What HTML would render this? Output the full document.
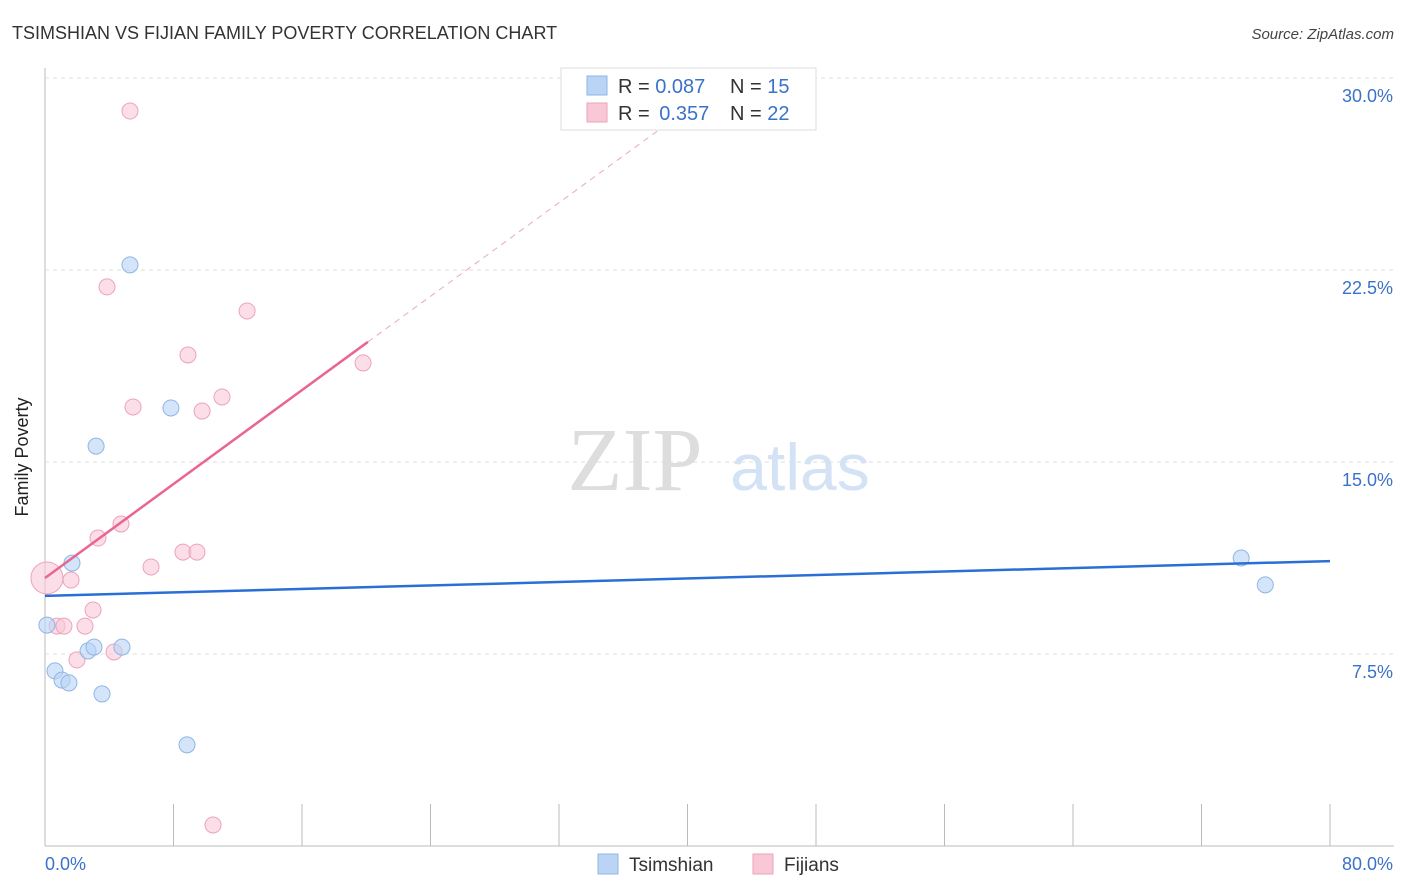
<!DOCTYPE html>
<html><head><meta charset="utf-8"><style>
body{margin:0;background:#fff;font-family:"Liberation Sans",sans-serif;}
svg{display:block}
</style></head><body>
<svg id="c" width="1406" height="892">
<text x="12" y="39" font-size="18" fill="#333">TSIMSHIAN VS FIJIAN FAMILY POVERTY CORRELATION CHART</text>
<text x="1394" y="39" font-size="15" fill="#444" font-style="italic" text-anchor="end">Source: ZipAtlas.com</text>
<text x="28" y="457" font-size="18" fill="#222" text-anchor="middle" transform="rotate(-90 28 457)">Family Poverty</text>
<g id="grid"></g>
<text x="635" y="490" font-size="90" fill="#ddd" font-family="Liberation Serif" text-anchor="middle">ZIP</text>
<text x="800" y="490" font-size="66" fill="#d3e2f5" text-anchor="middle">atlas</text>
<g id="marks"></g>
<g>
<rect x="561" y="68" width="255" height="62" fill="#fff" stroke="#ddd"/>
<rect x="587" y="76" width="20" height="19" fill="#b9d4f5" stroke="#8fb5e6"/>
<rect x="587" y="103" width="20" height="19" fill="#f9c8d7" stroke="#eda3bb"/>
<text x="618" y="93" font-size="20" fill="#333">R = <tspan fill="#3a72c9">0.087</tspan><tspan x="730">N = </tspan><tspan fill="#3a72c9">15</tspan></text>
<text x="618" y="120" font-size="20" fill="#333">R = <tspan fill="#3a72c9" dx="4">0.357</tspan><tspan x="730">N = </tspan><tspan fill="#3a72c9">22</tspan></text>
</g>
<g>
<rect x="598" y="854" width="20" height="20" fill="#b9d4f5" stroke="#8fb5e6"/>
<text x="629" y="871" font-size="19" fill="#333">Tsimshian</text>
<rect x="753" y="854" width="20" height="20" fill="#f9c8d7" stroke="#eda3bb"/>
<text x="784" y="871" font-size="19" fill="#333">Fijians</text>
</g>
</svg>
<script>
const yTicks=[7.5,15,22.5,30];
const yTickLabels=["7.5%","15.0%","22.5%","30.0%"];
const tsX=[0.12,0.62,1.06,1.49,1.68,2.68,3.05,3.18,3.55,4.79,5.29,7.84,8.84,74.47,75.97];
const tsY=[8.63,6.84,6.48,6.37,11.05,7.62,7.77,15.62,5.94,7.77,22.7,17.11,3.95,11.25,10.2];
const fjX=[0.75,1.18,1.62,1.99,2.49,2.99,3.3,3.86,4.3,4.73,5.29,5.48,6.6,8.59,8.9,9.46,9.78,10.46,11.02,12.58,19.8];
const fjY=[8.59,8.59,10.39,7.27,8.59,9.22,12.03,21.84,7.58,12.58,28.71,17.15,10.9,11.48,19.18,11.48,16.99,0.82,17.54,20.9,18.87];
const tsLine=[[0,9.77],[80,11.13]];
const fjLine=[[0,10.47],[20.1,19.69]];
const fjDash=[[20.1,19.69],[38.5,28.1]];
const X=v=>45+v*1285/80, Y=v=>846-v*25.6;
const NS="http://www.w3.org/2000/svg";
const g=document.getElementById('grid'), m=document.getElementById('marks');
function el(p,t,a){const e=document.createElementNS(NS,t);for(const k in a)e.setAttribute(k,a[k]);p.appendChild(e);return e;}
const ax=el(g,'line',{x1:45,x2:45,y1:68,y2:846,stroke:'#bbb'});


const bx=el(g,'line',{x1:45,x2:1394,y1:846,y2:846,stroke:'#bbb'});


yTicks.forEach((t,i)=>{
 const l=el(g,'line',{x1:45,x2:1394,y1:Y(t),y2:Y(t),stroke:'#ddd','stroke-dasharray':'4 4'});
 
 
 const tx=el(g,'text',{x:1393,y:Y(t)+24,'font-size':18,fill:'#3a72c9','text-anchor':'end'});
 tx.textContent=yTickLabels[i];
 
 
});
for(let i=1;i<=10;i++){
 const l=el(g,'line',{x1:X(i*8),x2:X(i*8),y1:804,y2:846,stroke:'#bbb'});
 
 
}
const x0=el(g,'text',{x:45,y:870,'font-size':18,fill:'#3a72c9'});x0.textContent='0.0%';


const x1=el(g,'text',{x:1393,y:870,'font-size':18,fill:'#3a72c9','text-anchor':'end'});x1.textContent='80.0%';


const big=el(m,'circle',{cx:X(0.12),cy:Y(10.47),r:16,fill:'#f9c8d7','fill-opacity':0.6,stroke:'#eda3bb'});


fjX.forEach((v,i)=>{const c=el(m,'circle',{cx:X(v),cy:Y(fjY[i]),r:8,fill:'#f9c8d7','fill-opacity':0.6,stroke:'#eda3bb'});
 
 });
tsX.forEach((v,i)=>{const c=el(m,'circle',{cx:X(v),cy:Y(tsY[i]),r:8,fill:'#b9d4f5','fill-opacity':0.6,stroke:'#8fb5e6'});
 
 });
const l1=el(m,'line',{x1:X(tsLine[0][0]),y1:Y(tsLine[0][1]),x2:X(tsLine[1][0]),y2:Y(tsLine[1][1]),stroke:'#2a6fd6','stroke-width':2.5});


const l2=el(m,'line',{x1:X(fjLine[0][0]),y1:Y(fjLine[0][1]),x2:X(fjLine[1][0]),y2:Y(fjLine[1][1]),stroke:'#e8668f','stroke-width':2.5});


const l3=el(m,'line',{x1:X(fjDash[0][0]),y1:Y(fjDash[0][1]),x2:X(fjDash[1][0]),y2:Y(fjDash[1][1]),stroke:'#eba8bd','stroke-width':1,'stroke-dasharray':'6 5'});


</script>
</body></html>
